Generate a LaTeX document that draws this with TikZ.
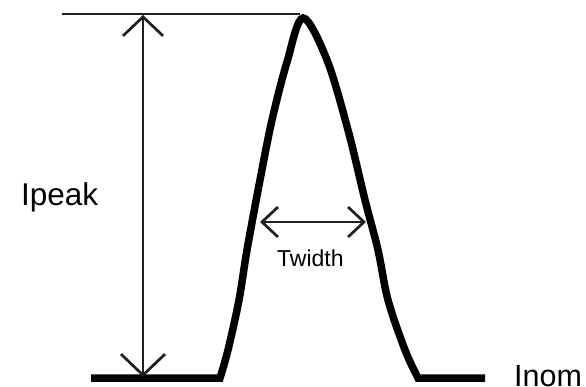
\documentclass[tikz,border=0pt]{standalone}
\usepackage{fontspec}
\setmainfont{Liberation Sans}
\usetikzlibrary{arrows.meta}
\begin{document}
\begin{tikzpicture}[x=1pt,y=-1pt,
  pulse/.style={line width=7.5pt, line join=miter},
  dimline/.style={line width=2.7pt, color=black!88},
  lbl/.style={inner sep=0pt, anchor=base west}]
\useasboundingbox (0,0) rectangle (586,387);
% pulse
\coordinate (b0) at (91,378);
\coordinate (b1) at (220,378);
\coordinate (pk) at (303,18);
\coordinate (b2) at (418,378);
\coordinate (b3) at (485,378);
\draw[pulse] (b0) -- (b1) -- plot[smooth, tension=0.55] coordinates {(220,378) (228,350) (239,300) (247,250) (260,180) (272,120) (287,62) (303,18) (327,60) (348,130) (365,200) (378,250) (388,300) (405,350) (418,378)} -- (b3);
% peak level line
\coordinate (t0) at (62,14);
\coordinate (t1) at (300,14);
\draw[dimline, line width=2.2pt] (t0) -- (t1);
% Ipeak arrow
\coordinate (va) at (143,15);
\coordinate (vb) at (143,377);
\draw[dimline, {Straight Barb[length=19pt,width=40pt]}-{Straight Barb[length=21pt,width=44pt]}] (va) -- (vb);
% Twidth arrow
\coordinate (ha) at (260,222);
\coordinate (hb) at (366,222);
\draw[dimline, {Straight Barb[length=16pt,width=30pt]}-{Straight Barb[length=16pt,width=30pt]}] (ha) -- (hb);
% labels
\node[lbl, font=\fontsize{31.5}{31.5}\selectfont] (ipeak) at (21,206) {Ipeak};
\node[lbl, font=\fontsize{23}{23}\selectfont] (twidth) at (277,267) {Twidth};
\node[lbl, font=\fontsize{30.5}{30.5}\selectfont] (inom) at (514,386) {Inom};
\end{tikzpicture}
\end{document}
